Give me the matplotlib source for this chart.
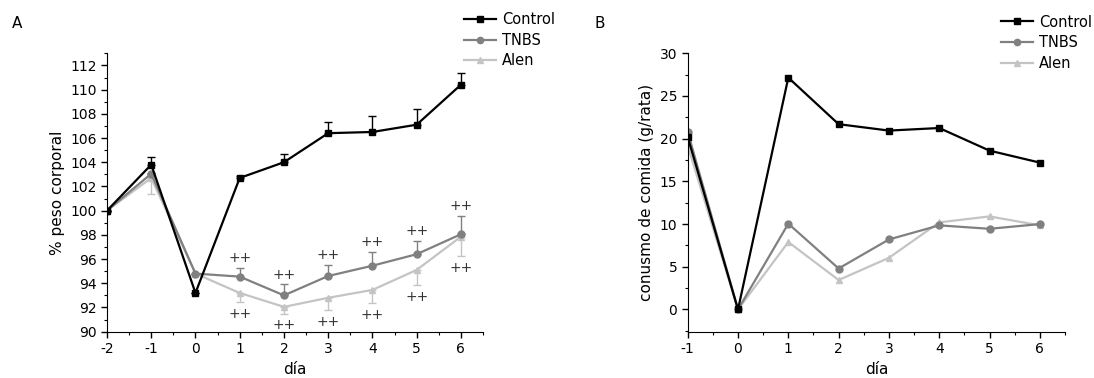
import matplotlib
matplotlib.use("Agg")
import matplotlib.pyplot as plt
from matplotlib.ticker import MultipleLocator
from matplotlib.lines import Line2D

plt.rcParams['font.family'] = ['DejaVu Sans']
plt.rcParams['font.size'] = 10
plt.rcParams['axes.unicode_minus'] = False

# --- datos panel A: % peso corporal ---
dias_a = [-2, -1, 0, 1, 2, 3, 4, 5, 6]
ctrl_a = [100, 103.8, 93.2, 102.7, 104.0, 106.4, 106.5, 107.1, 110.4]
ctrl_a_err = [0, 0.65, 0, 0.2, 0.7, 0.95, 1.3, 1.3, 1.0]
tnbs_a = [100, 103.05, 94.8, 94.55, 93.0, 94.6, 95.45, 96.4, 98.05]
tnbs_a_err = [0, 0.1, 0, 0.75, 0.9, 0.95, 1.15, 1.1, 1.5]
alen_a = [100, 102.7, 94.8, 93.2, 92.05, 92.8, 93.45, 95.1, 97.85]
alen_a_err = [0, 1.35, 0, 0.75, 0.55, 1.0, 1.1, 1.25, 1.6]
dias_sig = [1, 2, 3, 4, 5, 6]

# --- datos panel B: consumo de comida ---
dias_b = [-1, 0, 1, 2, 3, 4, 5, 6]
ctrl_b = [20.2, 0, 27.15, 21.7, 20.95, 21.25, 18.6, 17.2]
tnbs_b = [20.8, 0, 10.05, 4.8, 8.2, 9.85, 9.45, 10.0]
alen_b = [19.2, 0, 7.9, 3.45, 6.05, 10.2, 10.9, 9.85]

grupos = ['Control', 'TNBS', 'Alen']
colores = ['black', '#808080', '#c4c4c4']
marcadores = ['s', 'o', '^']

fig = plt.figure(figsize=(10.94, 3.78), dpi=100)
axA = fig.add_axes([0.0978, 0.1225, 0.3437, 0.7365])
axB = fig.add_axes([0.6286, 0.1225, 0.3449, 0.7365])

lw = 1.6
ms = 5


def estilo(ax):
    for s in ['top', 'right']:
        ax.spines[s].set_visible(False)
    ax.tick_params(direction='out', length=4, width=1, labelsize=10)
    ax.tick_params(which='minor', direction='out', length=2, width=0.8)


def leyenda(ax, x, y):
    h = [Line2D([], [], color=c, marker=m, ms=4.5, lw=lw) for c, m in zip(colores, marcadores)]
    ax.legend(h, grupos, loc='upper left', bbox_to_anchor=(x, y), frameon=False,
              handlelength=2.2, handletextpad=0.4, labelspacing=0.4, fontsize=10.5,
              borderaxespad=0)


# Panel A
axA.errorbar(dias_a, ctrl_a, yerr=[[0] * 9, ctrl_a_err], color=colores[0], marker='s',
             ms=ms, lw=lw, capsize=3, elinewidth=1, zorder=3)
axA.errorbar(dias_a, tnbs_a, yerr=[[0] * 9, tnbs_a_err], color=colores[1], marker='o',
             ms=ms, lw=lw, capsize=3, elinewidth=1, zorder=2)
axA.errorbar(dias_a, alen_a, yerr=[alen_a_err, [0] * 9], color=colores[2], marker='^',
             ms=ms, lw=lw, capsize=3, elinewidth=1, zorder=1)

for d in dias_sig:
    i = dias_a.index(d)
    axA.annotate('++', (d, tnbs_a[i] + tnbs_a_err[i]), xytext=(0, 7),
                 textcoords='offset points', ha='center', va='center',
                 fontsize=10, color='#333333')
    axA.annotate('++', (d, alen_a[i] - alen_a_err[i]), xytext=(0, -8.5),
                 textcoords='offset points', ha='center', va='center',
                 fontsize=10, color='#333333')

axA.set_xlim(-2, 6.5)
axA.set_ylim(90, 113)
axA.set_xticks(range(-2, 7))
axA.set_yticks(range(90, 113, 2))
axA.xaxis.set_minor_locator(MultipleLocator(0.5))
axA.yaxis.set_minor_locator(MultipleLocator(1))
axA.set_xlabel('día', fontsize=11, labelpad=4)
axA.set_ylabel('% peso corporal', fontsize=11)
estilo(axA)
leyenda(axA, 0.935, 1.17)

# Panel B
for y, c, m, z in zip([ctrl_b, tnbs_b, alen_b], colores, marcadores, [3, 2, 1]):
    axB.plot(dias_b, y, color=c, marker=m, ms=ms, lw=lw, zorder=z)
axB.set_xlim(-1, 6.5)
axB.set_ylim(-2.6, 30)
axB.set_xticks(range(-1, 7))
axB.set_yticks(range(0, 31, 5))
axB.xaxis.set_minor_locator(MultipleLocator(0.5))
axB.yaxis.set_minor_locator(MultipleLocator(2.5))
axB.set_xlabel('día', fontsize=11, labelpad=4)
axB.set_ylabel('conusmo de comida (g/rata)', fontsize=11)
estilo(axB)
leyenda(axB, 0.815, 1.16)

fig.text(0.011, 0.925, 'A', fontsize=11)
fig.text(0.543, 0.925, 'B', fontsize=11)

fig.savefig('out.png', dpi=100)
